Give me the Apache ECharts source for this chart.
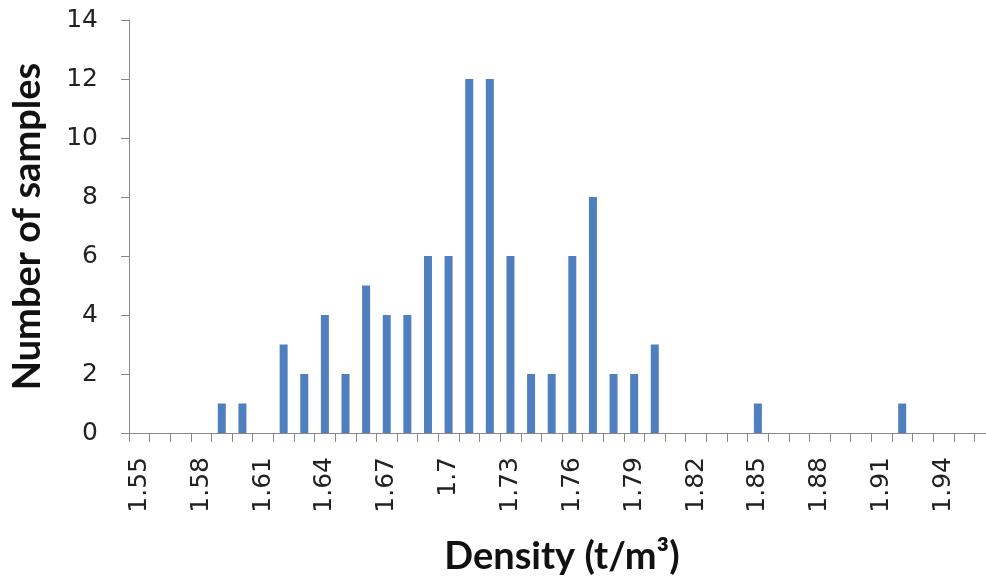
<!DOCTYPE html>
<html><head><meta charset="utf-8">
<script src="https://cdn.jsdelivr.net/npm/echarts@6/dist/echarts.min.js"></script>
<style>html,body{margin:0;padding:0;background:#fff}#c{width:986px;height:577px}</style>
</head><body><div id="c"></div>
<script>
const categories = ['1.55','1.56','1.57','1.58','1.59','1.6','1.61','1.62','1.63','1.64','1.65','1.66','1.67','1.68','1.69','1.7','1.71','1.72','1.73','1.74','1.75','1.76','1.77','1.78','1.79','1.8','1.81','1.82','1.83','1.84','1.85','1.86','1.87','1.88','1.89','1.9','1.91','1.92','1.93','1.94','1.95','1.96'];
const counts = [0,0,0,0,1,1,0,3,2,4,2,5,4,4,6,6,12,12,6,2,2,6,8,2,2,3,0,0,0,0,1,0,0,0,0,0,0,1,0,0,0,0];
const yTicks = [0,2,4,6,8,10,12,14];

const chart = echarts.init(document.getElementById('c'), null, {renderer:'canvas'});
const tickFont = '"DejaVu Sans", sans-serif';
const nameFont = 'Lato, "Open Sans", sans-serif';
chart.setOption({
  animation:false,
  grid:{left:129,top:20,bottom:144,right:-9,containLabel:false,outerBoundsMode:'none'},
  xAxis:{
    type:'category', data:categories, boundaryGap:true,
    name:'Density (t/m³)', nameLocation:'middle', nameGap:105,
    nameTextStyle:{fontFamily:nameFont,fontSize:38,fontWeight:'bold',color:'#111'},
    axisLine:{lineStyle:{color:'#888',width:1}},
    axisTick:{show:true,interval:0,length:9,lineStyle:{color:'#888'}},
    axisLabel:{interval:2,rotate:90,fontFamily:tickFont,fontSize:25,color:'#222',margin:24}
  },
  yAxis:{
    type:'value', min:yTicks[0], max:yTicks[yTicks.length-1], interval:2,
    name:'Number of samples', nameLocation:'middle', nameGap:82,
    nameTextStyle:{fontFamily:nameFont,fontSize:38,fontWeight:'bold',color:'#111'},
    axisLine:{show:true,lineStyle:{color:'#888',width:1}},
    axisTick:{show:true,length:8,lineStyle:{color:'#888'}},
    splitLine:{show:false},
    axisLabel:{fontFamily:tickFont,fontSize:25,color:'#222',margin:31}
  },
  series:[{type:'bar',data:counts,barWidth:8,label:{show:false},itemStyle:{color:'#4f7fbe'}}]
});
</script></body></html>
